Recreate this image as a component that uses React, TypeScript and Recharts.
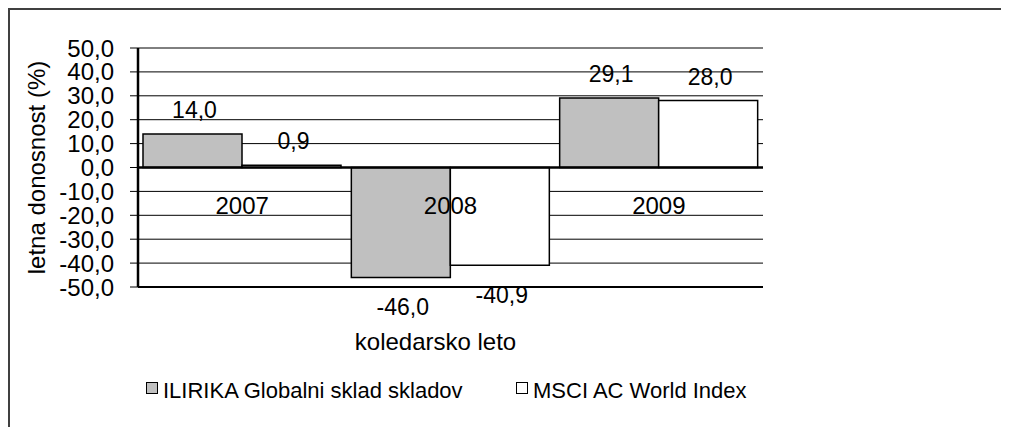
import React from "react";
import {
  BarChart,
  Bar,
  XAxis,
  YAxis,
  CartesianGrid,
  ReferenceLine,
  LabelList,
  Legend,
} from "recharts";

const years = ["2007", "2008", "2009"];
const ilirika = [14.0, -46.0, 29.1];
const msci = [0.9, -40.9, 28.0];
const yTicks = [-50, -40, -30, -20, -10, 0, 10, 20, 30, 40, 50];
const seriesNames = ["ILIRIKA Globalni sklad skladov", "MSCI AC World Index"];
const seriesFills = ["#c0c0c0", "#ffffff"];

const data = years.map((year, i) => ({ year, ilirika: ilirika[i], msci: msci[i] }));

const font = "'Liberation Sans', Arial, sans-serif";
const fmt = (v: number) => (Math.abs(v) < 1e-9 ? 0 : v).toFixed(1).replace(".", ",");

// Excel style "outside end" labels
const ValueLabel = (props: any) => {
  const { x, y, width, height, value } = props;
  const top = Math.min(y, y + height);
  const bottom = Math.max(y, y + height);
  const ty = value >= 0 ? top - 16 : bottom + 38;
  return (
    <text x={x + width / 2 + 2} y={ty} textAnchor="middle" fontSize={23} fill="#000" fontFamily={font}>
      {fmt(value)}
    </text>
  );
};

// category labels sit just under the zero line
const YearTick = (props: any) => {
  const { x, y, payload } = props;
  return (
    <text x={x} y={y - 73} textAnchor="middle" fontSize={24} fill="#000" fontFamily={font}>
      {payload.value}
    </text>
  );
};

const XTitle = (props: any) => {
  const vb = props.viewBox;
  return (
    <text x={vb.x + vb.width / 2 - 15} y={vb.y + 63} textAnchor="middle" fontSize={24} fill="#000" fontFamily={font}>
      koledarsko leto
    </text>
  );
};

const YTitle = (props: any) => {
  const vb = props.viewBox;
  const cx = vb.x + 45;
  const cy = vb.y + vb.height / 2;
  return (
    <text
      x={cx}
      y={cy}
      transform={`rotate(-90, ${cx}, ${cy})`}
      textAnchor="middle"
      fontSize={24}
      fill="#000"
      fontFamily={font}
    >
      letna donosnost (%)
    </text>
  );
};

const LegendContent = () => (
  <div style={{ display: "flex", fontFamily: font, fontSize: 22, color: "#000" }}>
    {seriesNames.map((name, i) => (
      <div key={name} style={{ display: "flex", alignItems: "flex-start", width: i === 0 ? 370 : undefined }}>
        <span
          style={{
            display: "inline-block",
            width: 12,
            height: 12,
            boxSizing: "border-box",
            border: "1.5px solid #000",
            background: seriesFills[i],
            marginTop: 4,
            marginRight: 5,
          }}
        />
        <span style={{ whiteSpace: "nowrap" }}>{name}</span>
      </div>
    ))}
  </div>
);

export default function App() {
  return (
    <div style={{ position: "relative", width: 1001, height: 419 }}>
      <style>{"html,body{overflow:hidden}"}</style>
      <div
        style={{
          position: "absolute",
          left: 0,
          top: 0,
          width: 1001,
          height: 419,
          boxSizing: "border-box",
          borderTop: "2px solid #404040",
          borderLeft: "2px solid #404040",
        }}
      />
      <div style={{ position: "absolute", left: -8, top: -8 }}>
        <BarChart
          width={1009}
          height={427}
          data={data}
          margin={{ top: 48, right: 246, bottom: 0, left: 0 }}
          barGap={0}
          barCategoryGap="2.4%"
        >
          <CartesianGrid vertical={false} stroke="#000" strokeWidth={1} />
          <XAxis
            dataKey="year"
            height={140}
            axisLine={false}
            tickLine={false}
            tickSize={0}
            tickMargin={0}
            tick={<YearTick />}
            label={{ content: <XTitle /> }}
          />
          <YAxis
            width={138}
            domain={[-50, 50]}
            ticks={yTicks}
            interval={0}
            tickFormatter={fmt}
            axisLine={{ stroke: "#000", strokeWidth: 2.5 }}
            tickLine={{ stroke: "#000", strokeWidth: 1 }}
            tickSize={8}
            tickMargin={16}
            tick={{ fontSize: 24, fill: "#000", fontFamily: font }}
            label={{ content: <YTitle /> }}
          />
          <YAxis
            yAxisId="right"
            orientation="right"
            width={0}
            domain={[-50, 50]}
            tick={false}
            tickLine={false}
            axisLine={{ stroke: "#000", strokeWidth: 1.5 }}
          />
          <Legend
            layout="vertical"
            align="center"
            verticalAlign="middle"
            content={<LegendContent />}
            wrapperStyle={{ position: "absolute", left: 146, top: 378, width: 700 }}
          />
          <Bar dataKey="ilirika" fill={seriesFills[0]} stroke="#000" strokeWidth={1.5} isAnimationActive={false}>
            <LabelList dataKey="ilirika" content={<ValueLabel />} />
          </Bar>
          <Bar dataKey="msci" fill={seriesFills[1]} stroke="#000" strokeWidth={1.5} isAnimationActive={false}>
            <LabelList dataKey="msci" content={<ValueLabel />} />
          </Bar>
          <ReferenceLine y={0} stroke="#000" strokeWidth={2.5} />
          <ReferenceLine y={-50} stroke="#000" strokeWidth={2} />
        </BarChart>
      </div>
    </div>
  );
}
